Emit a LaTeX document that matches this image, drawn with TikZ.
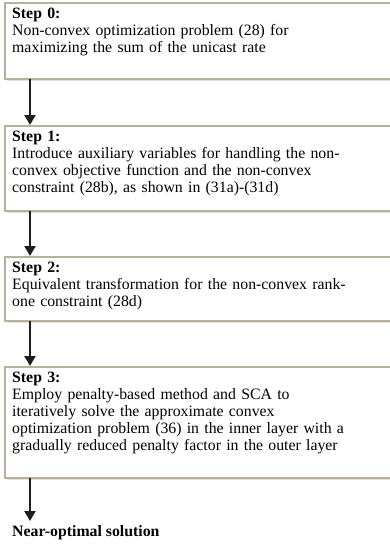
\documentclass[tikz,border=0pt]{standalone}
\usepackage{fontspec}
\setmainfont{Liberation Serif}
\usetikzlibrary{arrows.meta}
\definecolor{boxline}{RGB}{184,176,158}
\definecolor{boxshade}{RGB}{228,224,214}
\definecolor{arrowcol}{RGB}{30,30,30}
\tikzset{
  stepframe/.style={draw=boxline, line width=1.4pt, fill=white},
  steptext/.style={anchor=north west, align=left, inner sep=0pt,
    font=\fontsize{15.8pt}{17pt}\selectfont, text width=385pt},
  flow/.style={draw=arrowcol, line width=2.3pt,
    -{Triangle[length=10pt,width=11pt]}},
}
\newcommand{\stepbox}[4]{%
  % #1 name, #2 top, #3 bottom, #4 text
  \fill[boxshade] (6.5,#2+1.5) rectangle (400,#3+1.5);
  \path[stepframe] (5,#2) rectangle (400,#3);
  \coordinate (#1top) at (30,#2);
  \coordinate (#1bot) at (30,#3);
  \node[steptext] (#1) at (12,#2+5) {#4};
}
\begin{document}
\begin{tikzpicture}[x=1pt,y=-1pt]
  \useasboundingbox (0,0) rectangle (389,549);
  \stepbox{s0}{3}{79}{\textbf{Step 0:}\\Non-convex optimization problem (28) for\\maximizing the sum of the unicast rate}
  \stepbox{s1}{126}{211}{\textbf{Step 1:}\\Introduce auxiliary variables for handling the non-\\convex objective function and the non-convex\\constraint (28b), as shown in (31a)-(31d)}
  \stepbox{s2}{257}{321}{\textbf{Step 2:}\\Equivalent transformation for the non-convex rank-\\one constraint (28d)}
  \stepbox{s3}{367}{478}{\textbf{Step 3:}\\Employ penalty-based method and SCA to\\iteratively solve the approximate convex\\optimization problem (36) in the inner layer with a\\gradually reduced penalty factor in the outer layer}
  \node[anchor=west, inner sep=0pt, font=\fontsize{15.8pt}{17pt}\selectfont\bfseries] (out) at (12,533) {Near-optimal solution};
  \coordinate (outtop) at (30,521);
  \draw[flow] (s0bot) -- ([yshift=1pt]s1top);
  \draw[flow] (s1bot) -- ([yshift=1pt]s2top);
  \draw[flow] (s2bot) -- ([yshift=1pt]s3top);
  \draw[flow] (s3bot) -- (outtop);
\end{tikzpicture}
\end{document}
